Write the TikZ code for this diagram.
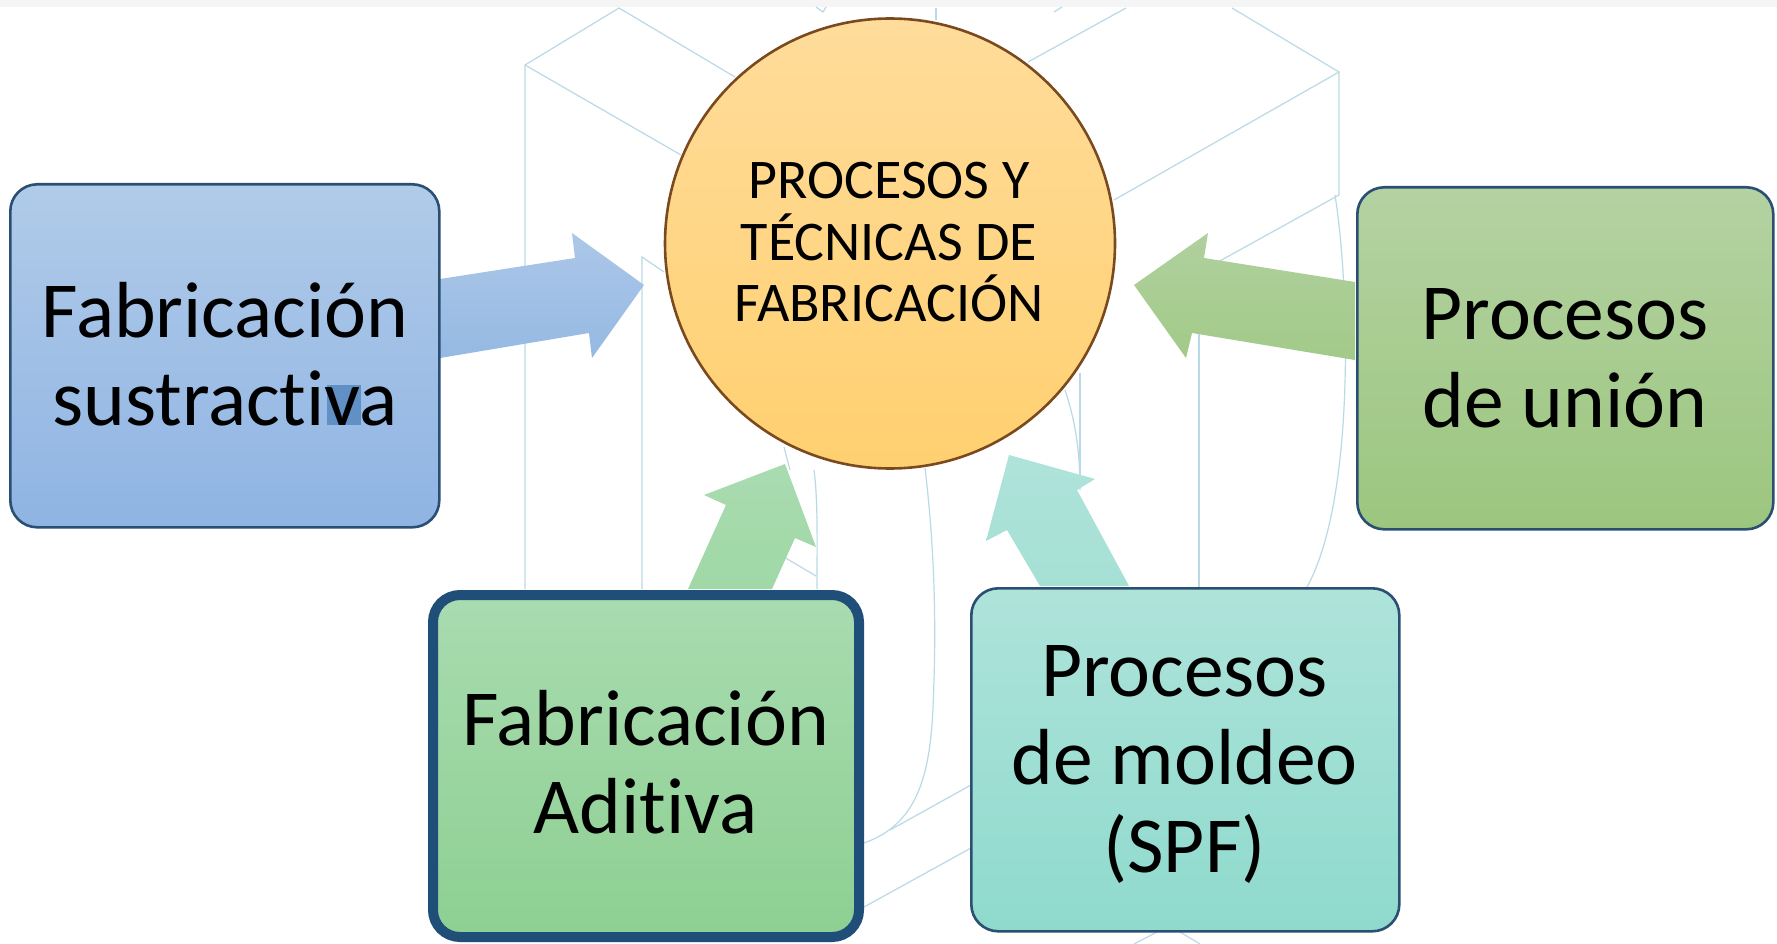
\documentclass[tikz,border=0pt]{standalone}
\usepackage{fontspec}
\setmainfont{Carlito}[Ligatures={NoCommon}]
\definecolor{wirecol}{HTML}{BAD9E6}
\definecolor{boxline}{HTML}{2B4F72}
\definecolor{ARa}{HTML}{ACC7E8}
\definecolor{ARb}{HTML}{95B9E3}
\definecolor{AGa}{HTML}{B4D2A2}
\definecolor{AGb}{HTML}{9CC67F}
\definecolor{AHa}{HTML}{B0D09E}
\definecolor{AHb}{HTML}{A2CA88}
\definecolor{ADa}{HTML}{A9DBB0}
\definecolor{ADb}{HTML}{8DD092}
\definecolor{AEa}{HTML}{A9DBB0}
\definecolor{AEb}{HTML}{A0D8A6}
\definecolor{TLa}{HTML}{AEE3DA}
\definecolor{TLb}{HTML}{8FDACD}
\definecolor{TMa}{HTML}{AEE3DA}
\definecolor{TMb}{HTML}{A6E0D5}
\definecolor{CIa}{HTML}{FFDC9B}
\definecolor{CIb}{HTML}{FFD070}
\definecolor{CIline}{HTML}{7A4A1E}
\definecolor{BLa}{HTML}{B1CBE9}
\definecolor{BLb}{HTML}{8FB4E3}
\definecolor{HLv}{HTML}{6090C4}
\definecolor{ADline}{HTML}{1F4E79}
\tikzset{
  wire/.style={draw=wirecol,line width=1.2pt},
  boxbase/.style={rectangle,rounded corners=27pt,draw=boxline,line width=2.6pt,anchor=north west,inner sep=0pt},
  bigtext/.style={anchor=base,align=center,inner sep=0pt,text=black,font=\fontsize{79.5}{88}\selectfont},
  midtext/.style={anchor=base,align=center,inner sep=0pt,text=black,font=\fontsize{56}{61.5}\selectfont},
}
\begin{document}
\begin{tikzpicture}[x=1pt,y=-1pt]
\useasboundingbox (0,0) rectangle (1777,944);
\fill[white] (0,0) rectangle (1777,944);
\fill[black!4] (0,0) rectangle (1777,7);
% wireframe behind
\draw[wire] (525,589) -- (525,65) -- (619,8) -- (735,77);
\draw[wire] (525,65) -- (681,155);
\draw[wire] (642,589) -- (642,257) -- (664,272);
\draw[wire] (936,8) -- (936,20);
\draw[wire] (816,7) -- (823,12) -- (826,7);
\draw[wire] (1054,12) -- (1062,7);
\draw[wire] (1028,62) -- (1126,8);
\draw[wire] (1232,8) -- (1339,72) -- (1114,200);
\draw[wire] (1339,72) -- (1339,195) -- (1218,262);
\draw[wire] (1335,195) .. controls (1350,290) and (1355,500) .. (1307,587);
\draw[wire] (1199,333) -- (1199,587);
\draw[wire] (1080,373) -- (1080,483);
\draw[wire] (1065,390) .. controls (1075,420) and (1080,450) .. (1080,490);
\draw[wire] (784,447) .. controls (786,455) and (788,462) .. (790,470);
\draw[wire] (814,470) .. controls (818,500) and (817,540) .. (817,589);
\draw[wire] (784,557) -- (816,576);
\draw[wire] (925,468) .. controls (936,560) and (936,640) .. (933,707) .. controls (930,780) and (915,825) .. (864,843);
\draw[wire] (971,785) -- (890,830);
\draw[wire] (971,848) -- (864,907);
\draw[wire] (1134,944) -- (1157,932);
\draw[wire] (1180,932) -- (1200,944);
% arrows
\path[top color=ARa,bottom color=ARb] (440,279) -- (575,258) -- (572,233) -- (644,285) -- (592,358) -- (589,333) -- (440,358) -- cycle;
\path[top color=AHa,bottom color=AHb] (1355,282) -- (1204,258) -- (1208,233) -- (1134,285) -- (1186,358) -- (1192,333) -- (1355,360) -- cycle;
\path[top color=AEa,bottom color=AEb] (688,589) -- (726,505) -- (704,495) -- (785,464) -- (816,547) -- (795,538) -- (772,589) -- cycle;
\path[top color=TMa,bottom color=TMb] (1040,586) -- (1007,530) -- (986,541) -- (1009,455) -- (1095,479) -- (1077,490) -- (1129,586) -- cycle;
% centre
\node[circle,minimum size=450pt,inner sep=0pt,draw=CIline,line width=2.6pt,top color=CIa,bottom color=CIb] (centre) at (890,243.5) {};
\node[midtext] (centretxt) at (889,321.5) {PROCESOS Y\\TÉCNICAS DE\\FABRICACIÓN};
% boxes
\node[boxbase,minimum width=429pt,minimum height=343pt,top color=BLa,bottom color=BLb] (sub) at (9,183) {};
\fill[HLv] (327,385) rectangle (361,425);
\node[bigtext] (subtxt) at (225,425) {Fabricación\\sustractiva};
\node[boxbase,minimum width=416pt,minimum height=342pt,top color=AGa,bottom color=AGb] (union) at (1356,186) {};
\node[bigtext] (uniontxt) at (1565,427) {Procesos\\de unión};
\node[boxbase,minimum width=426pt,minimum height=342pt,draw=ADline,line width=10pt,top color=ADa,bottom color=ADb] (adit) at (428,590) {};
\node[bigtext] (adittxt) at (645.5,833) {Fabricación\\Aditiva};
\node[boxbase,minimum width=428pt,minimum height=343pt,top color=TLa,bottom color=TLb] (molde) at (970,587) {};
\node[bigtext] (moldetxt) at (1184.5,872) {Procesos\\de moldeo\\(SPF)};
\end{tikzpicture}
\end{document}
